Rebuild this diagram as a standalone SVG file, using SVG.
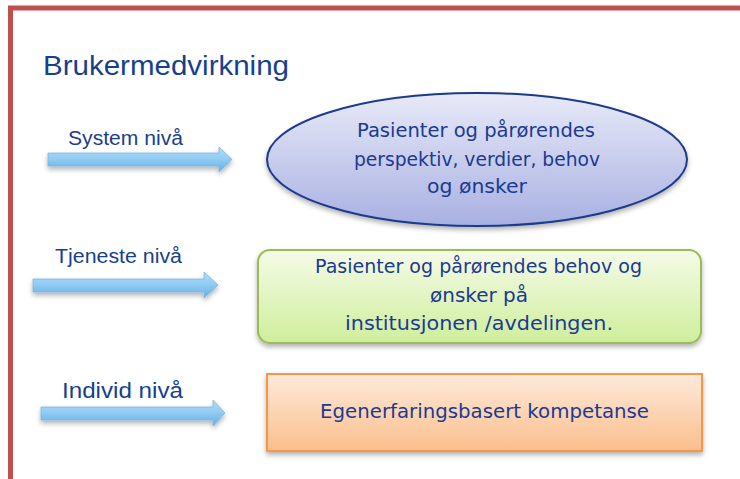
<svg xmlns="http://www.w3.org/2000/svg" width="740" height="479" viewBox="0 0 740 479">
<defs>
<style>
.lbl{font-family:"Liberation Sans",Arial,sans-serif;fill:#173F8F}
.hw{font-family:"DejaVu Sans","Noto Sans",sans-serif;font-size:19px;fill:#1B3A91;text-anchor:start}
.arrow{fill:url(#gArrow);stroke:#7DB3E0;stroke-width:0.8;filter:url(#sh)}
</style>
<linearGradient id="gArrow" x1="0" y1="0" x2="0" y2="1">
<stop offset="0" stop-color="#B3DDF7"/>
<stop offset="0.5" stop-color="#8FCBF2"/>
<stop offset="1" stop-color="#63ACE3"/>
</linearGradient>
<linearGradient id="gEll" x1="0" y1="0" x2="0" y2="1">
<stop offset="0" stop-color="#E8EAF8"/>
<stop offset="1" stop-color="#A8B0E2"/>
</linearGradient>
<linearGradient id="gGreen" x1="0" y1="0" x2="0" y2="1">
<stop offset="0" stop-color="#F5FBE8"/>
<stop offset="1" stop-color="#CFEE9C"/>
</linearGradient>
<linearGradient id="gOrange" x1="0" y1="0" x2="0" y2="1">
<stop offset="0" stop-color="#FDEADB"/>
<stop offset="1" stop-color="#FBBE8C"/>
</linearGradient>
<filter id="sh" x="-10%" y="-20%" width="120%" height="160%">
<feDropShadow dx="0" dy="3" stdDeviation="2.5" flood-color="#000" flood-opacity="0.3"/>
</filter>
</defs>
<rect x="0" y="0" width="740" height="479" fill="#FFFFFF"/>
<g id="frame">
<polyline points="10.5,479 10.5,8 740,8" fill="none" stroke="#C0504D" stroke-width="5"/>
</g>
<g id="title">
<text class="lbl" x="43" y="75" font-size="28" textLength="246" lengthAdjust="spacingAndGlyphs">Brukermedvirkning</text>
</g>
<g id="connectors">
<path class="arrow" d="M48,153 H219 V147 L232,159.5 L219,172 V166 H48 Z"/>
<path class="arrow" d="M33,279 H204 V272 L218,285 L204,298 V292 H33 Z"/>
<path class="arrow" d="M41,407 H213 V400 L225,413 L213,426 V420 H41 Z"/>
</g>
<g id="label-system">
<text class="lbl" x="68" y="145" font-size="20" textLength="115" lengthAdjust="spacingAndGlyphs">System nivå</text>
</g>
<g id="label-tjeneste">
<text class="lbl" x="55" y="263" font-size="20" textLength="127" lengthAdjust="spacingAndGlyphs">Tjeneste nivå</text>
</g>
<g id="label-individ">
<text class="lbl" x="62" y="398" font-size="22" textLength="121" lengthAdjust="spacingAndGlyphs">Individ nivå</text>
</g>
<g id="node-system">
<ellipse cx="477" cy="159.5" rx="210" ry="66.5" fill="url(#gEll)" stroke="#1D3A8A" stroke-width="2" filter="url(#sh)"/>
<text class="hw" x="357" y="137" textLength="238" lengthAdjust="spacingAndGlyphs">Pasienter og pårørendes</text>
<text class="hw" x="354" y="166" textLength="246" lengthAdjust="spacingAndGlyphs">perspektiv, verdier, behov</text>
<text class="hw" x="427" y="193" textLength="100" lengthAdjust="spacingAndGlyphs">og ønsker</text>
</g>
<g id="node-tjeneste">
<rect x="258" y="250" width="443" height="93" rx="12" fill="url(#gGreen)" stroke="#9BBB59" stroke-width="2" filter="url(#sh)"/>
<text class="hw" x="315" y="273" textLength="327" lengthAdjust="spacingAndGlyphs">Pasienter og pårørendes behov og</text>
<text class="hw" x="430" y="302" textLength="98" lengthAdjust="spacingAndGlyphs">ønsker på</text>
<text class="hw" x="345" y="330" textLength="268" lengthAdjust="spacingAndGlyphs">institusjonen /avdelingen.</text>
</g>
<g id="node-individ">
<rect x="267" y="374" width="435" height="77" fill="url(#gOrange)" stroke="#F79646" stroke-width="2" filter="url(#sh)"/>
<text class="hw" x="320" y="418" textLength="329" lengthAdjust="spacingAndGlyphs">Egenerfaringsbasert kompetanse</text>
</g>
</svg>
